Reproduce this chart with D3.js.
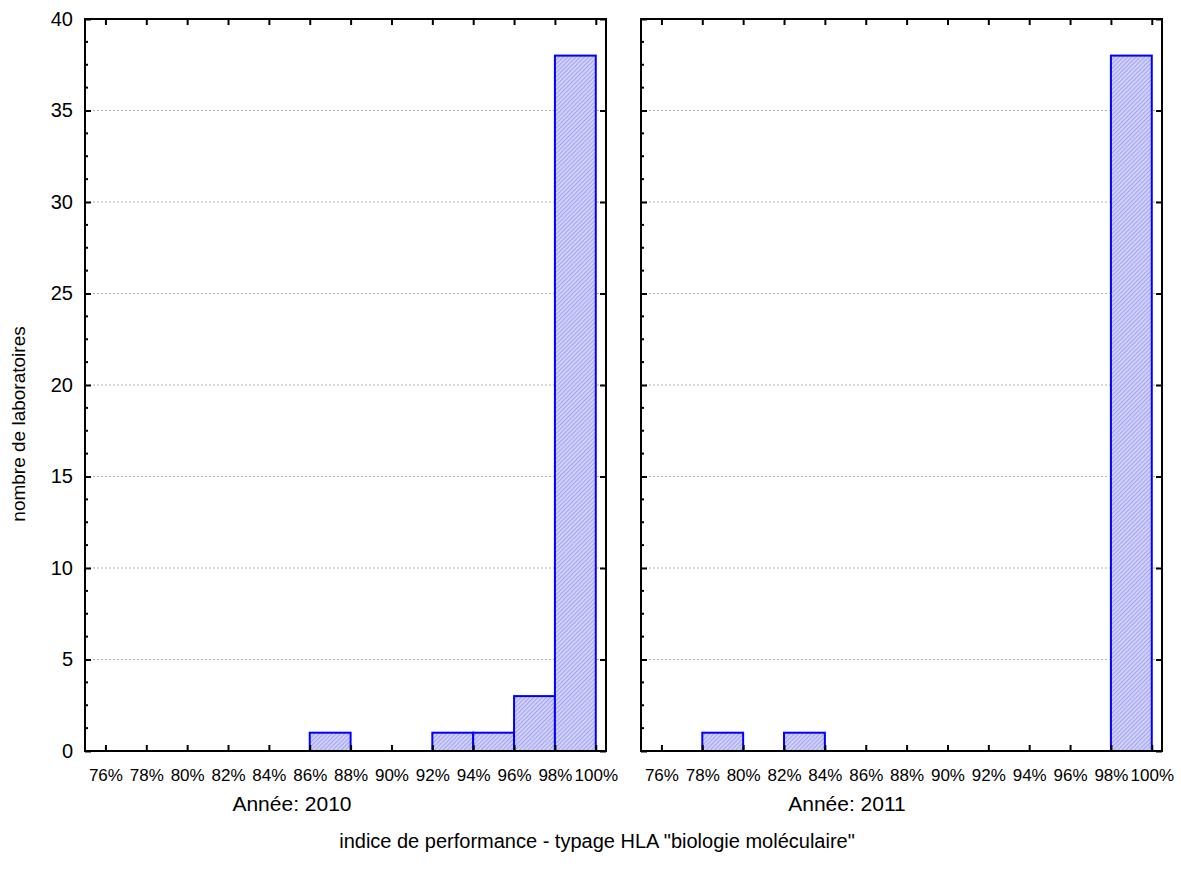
<!DOCTYPE html>
<html><head><meta charset="utf-8">
<script src="https://cdn.jsdelivr.net/npm/d3@7"></script>
<style>body{margin:0;background:#fff;} text{font-family:"Liberation Sans",Arial,sans-serif;fill:#000;}</style>
</head><body>
<svg id="c" width="1181" height="877"></svg>
<script>
const binStarts = [76,78,80,82,84,86,88,90,92,94,96,98];
const counts2010 = [0,0,0,0,0,1,0,0,1,1,3,38];
const counts2011 = [0,1,0,1,0,0,0,0,0,0,0,38];
const xTicks = [76,78,80,82,84,86,88,90,92,94,96,98,100];
const yTicks = [0,5,10,15,20,25,30,35,40];
const panelTitles = ["Année: 2010","Année: 2011"];
const xTitle = 'indice de performance - typage HLA "biologie moléculaire"';
const yTitle = "nombre de laboratoires";

(function(){
const svg = d3.select("#c");
const defs = svg.append("defs");
const pat = defs.append("pattern").attr("id","hatch").attr("patternUnits","userSpaceOnUse")
  .attr("width",3).attr("height",3).attr("patternTransform","rotate(45)");
pat.append("rect").attr("width",3).attr("height",3).attr("fill","#d4d4fc");
pat.append("rect").attr("width",1.2).attr("height",3).attr("fill","#a6a6ee");

const yTop = 19, yBot = 751;
const y = d3.scaleLinear().domain([0,40]).range([yBot, yTop]);
const panels = [
  {x0:85, x1:606, data:counts2010, title:panelTitles[0], tx:292, labels:true},
  {x0:641, x1:1162, data:counts2011, title:panelTitles[1], tx:847, labels:false}
];
const minor = d3.range(0,40.01,1.25).filter(v => v%5!==0);
const FF = "'Liberation Sans',Arial,sans-serif";

panels.forEach(p => {
  const x = d3.scaleLinear().domain([75,100.5]).range([p.x0,p.x1]);
  const g = svg.append("g");
  g.selectAll(".grid").data(yTicks.filter(v=>v>0 && v<40)).join("line")
    .attr("x1",p.x0).attr("x2",p.x1).attr("y1",d=>y(d)).attr("y2",d=>y(d))
    .attr("stroke","#b0b0b0").attr("stroke-width",1).attr("stroke-dasharray","2,2");
  const bins = binStarts.map((s,i)=>({s, v:p.data[i]}));
  g.selectAll(".bar").data(bins.filter(d=>d.v>0)).join("rect")
    .attr("x",d=>x(d.s)).attr("width",d=>x(d.s+2)-x(d.s))
    .attr("y",d=>y(d.v)).attr("height",d=>y(0)-y(d.v))
    .attr("fill","url(#hatch)").attr("stroke","#0000ff").attr("stroke-width",2);
  g.append("line").attr("x1",x(76)).attr("x2",x(100)).attr("y1",y(0)).attr("y2",y(0))
    .attr("stroke","#0000ff").attr("stroke-width",2);
  const xb = d3.axisBottom(x).tickValues(xTicks).tickSize(-6).tickPadding(18).tickFormat(d=>d+"%");
  const ax = g.append("g").attr("transform",`translate(0,${yBot})`).call(xb);
  ax.select(".domain").remove();
  ax.selectAll("line").attr("stroke","#000").attr("stroke-width",2);
  ax.selectAll("text").attr("font-size",17).style("font-family",FF);
  const xt = d3.axisTop(x).tickValues(xTicks).tickSize(-6).tickFormat("");
  const at = g.append("g").attr("transform",`translate(0,${yTop})`).call(xt);
  at.select(".domain").remove();
  at.selectAll("line").attr("stroke","#000").attr("stroke-width",2);
  const yl = d3.axisLeft(y).tickValues(yTicks).tickSize(-6).tickPadding(12).tickFormat(p.labels? d3.format("d") : "");
  const al = g.append("g").attr("transform",`translate(${p.x0},0)`).call(yl);
  al.select(".domain").remove();
  al.selectAll("line").attr("stroke","#000").attr("stroke-width",2);
  al.selectAll("text").attr("font-size",20).style("font-family",FF);
  g.selectAll(".mn").data(minor).join("line")
    .attr("x1",p.x0).attr("x2",p.x0+3).attr("y1",d=>y(d)).attr("y2",d=>y(d))
    .attr("stroke","#000").attr("stroke-width",2);
  const yr = d3.axisRight(y).tickValues(yTicks).tickSize(-6).tickFormat("");
  const ar = g.append("g").attr("transform",`translate(${p.x1},0)`).call(yr);
  ar.select(".domain").remove();
  ar.selectAll("line").attr("stroke","#000").attr("stroke-width",2);
  g.append("rect").attr("x",p.x0).attr("y",yTop).attr("width",p.x1-p.x0).attr("height",yBot-yTop)
    .attr("fill","none").attr("stroke","#000").attr("stroke-width",2);
  svg.append("text").attr("x",p.tx).attr("y",811).attr("text-anchor","middle")
    .attr("font-size",21).text(p.title);
});

svg.append("text").attr("x",597).attr("y",848).attr("text-anchor","middle").attr("font-size",20).text(xTitle);
svg.append("text").attr("transform","translate(25,424) rotate(-90)").attr("text-anchor","middle")
  .attr("font-size",19).text(yTitle);
})();
</script>
</body></html>
